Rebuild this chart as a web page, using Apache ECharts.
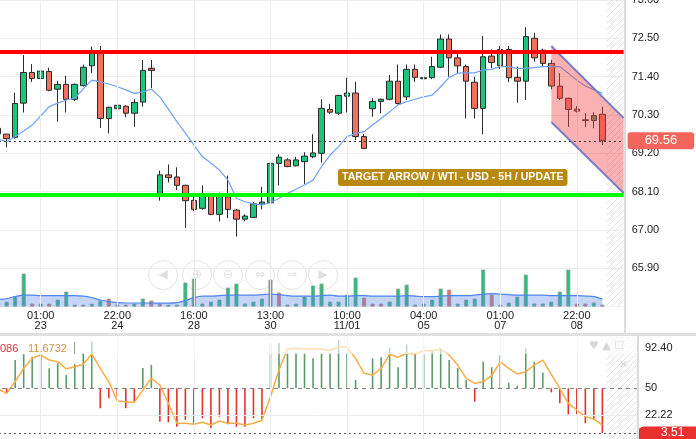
<!DOCTYPE html>
<html><head><meta charset="utf-8">
<script src="https://cdn.jsdelivr.net/npm/echarts@6/dist/echarts.min.js"></script>
<style>html,body{margin:0;padding:0;background:#fff;overflow:hidden}#c{width:696px;height:439px}</style>
</head><body><div id="c"></div>
<script>
// ---------- data ----------
const tickLabels = ['01:00\n23','22:00\n24','16:00\n28','13:00\n30','10:00\n11/01','04:00\n05','01:00\n07','22:00\n08'];
const tickIndex = [5,14,23,32,41,50,59,68];
const candleOpen  = [69.92,69.75,69.66,70.64,71.52,71.35,71.55,71.04,71.18,70.75,71.14,71.71,72.14,70.20,70.48,70.55,70.35,70.67,71.64,68.05,68.58,68.52,68.28,67.85,67.62,67.98,67.45,67.95,67.57,67.31,67.36,67.74,67.78,68.91,69.01,68.84,68.96,69.10,69.20,70.46,70.35,70.84,70.93,69.68,70.48,70.69,70.75,71.27,70.82,71.61,71.34,71.37,71.67,72.48,71.94,71.69,71.24,70.49,71.99,71.71,72.18,71.38,71.27,72.50,72.16,71.78,71.13,70.78,70.47,70.16,70.14,70.32];
const candleClose = [69.76,69.62,70.63,71.52,71.35,71.56,71.01,71.18,70.75,71.18,71.67,72.07,70.20,70.52,70.58,70.35,70.66,71.58,71.58,68.58,68.50,68.28,67.84,67.59,67.98,67.45,67.98,67.59,67.31,67.40,67.75,67.80,68.91,69.09,68.82,69.01,69.12,69.21,70.49,70.38,70.86,70.93,69.68,69.34,70.69,70.75,71.27,70.63,71.61,71.38,71.37,71.69,72.48,71.94,71.71,71.27,70.49,71.97,71.81,72.18,71.37,71.27,72.55,71.94,71.78,71.13,70.78,70.46,70.41,70.14,70.28,69.56];
const candleLow   = [69.70,69.37,69.62,70.37,71.25,71.33,70.98,70.11,70.37,70.70,71.12,71.50,69.93,69.77,70.33,70.23,69.96,70.54,71.07,67.84,68.36,68.15,67.06,67.55,67.58,67.42,67.24,67.34,66.81,67.25,67.34,67.59,67.75,68.28,68.80,68.82,68.32,69.06,68.93,70.33,70.30,70.37,69.58,69.32,70.25,70.35,70.72,70.60,70.73,71.25,71.30,71.33,71.65,71.40,71.50,70.20,70.20,69.75,71.64,71.62,71.24,70.65,70.73,71.83,71.68,71.04,70.73,69.96,70.37,69.95,69.92,69.44];
const candleHigh  = [70.00,69.76,70.94,72.02,71.76,71.66,71.66,71.28,71.43,71.20,71.75,72.26,72.28,70.54,70.65,70.58,70.75,71.88,71.88,68.70,68.88,68.80,68.30,68.00,68.28,68.03,68.07,68.56,67.60,67.45,67.80,68.24,69.15,69.17,69.06,69.10,69.23,69.75,70.75,70.62,70.88,71.37,71.25,69.75,70.78,70.77,71.45,71.75,71.75,71.75,71.59,71.97,72.61,72.61,72.07,71.75,71.40,72.57,72.18,72.28,72.28,71.69,72.82,72.66,72.20,71.88,71.50,70.80,70.56,70.35,70.38,70.54];
const priceMA = [69.61,69.53,69.68,69.84,70.01,70.27,70.54,70.64,70.73,70.78,71.05,71.30,71.25,71.19,71.11,71.02,70.92,70.96,71.04,70.82,70.47,70.11,69.78,69.44,69.10,68.92,68.72,68.43,67.91,67.81,67.75,67.72,67.78,67.91,68.05,68.17,68.29,68.43,68.82,69.15,69.39,69.68,69.77,69.82,70.01,70.20,70.39,70.59,70.68,70.75,70.82,70.87,71.11,71.38,71.50,71.51,71.51,71.59,71.61,71.69,71.69,71.64,71.64,71.66,71.69,71.69,71.69,71.50,71.30,71.13,71.02,70.92];
const volume   = [2,5,10,33,3,3,3,7,15,2, 2,3,6,8,2,2,3,8,6,3, 2,2,24,28,3,5,7,19,23,3, 5,8,27,14,2,3,10,21,23,5, 5,12,29,9,3,3,5,18,22,2, 3,7,18,17,3,7,8,37,12,2, 4,10,32,3,3,5,15,37,3,3, 4,2];
const volumeUp = [1,1,1,1,0,1,0,1,1,1, 1,1,1,0,1,1,1,1,0,0, 1,1,1,1,1,1,1,1,1,1, 1,1,1,0,1,1,1,1,1,1, 1,1,1,0,0,0,1,1,1,1, 1,1,1,0,1,1,1,1,0,1, 1,1,1,1,1,1,1,1,0,0, 1,0];
const volumeMA = [7,8,10,11.5,11.5,11,11,11,11,11, 10.5,9,6.6,5,4,3.6,3.6,3.6,3.6,3.5, 3.5,4,6,9,10.5,10.5,11,11.5,11.5,11.5, 11.5,12,12.5,12,11,10.5,10.5,10.5,11,11.5, 10.5,10.5,11,11,10.5,10.5,10.5,10.5,11,10.5, 10,10,10.5,11,11,11,11.5,12.5,13,12.5, 12,11.5,11.5,11.5,11.5,11,11,11,11,10.5, 10,7.5];
const oscBars = [50,44.8,79.4,85.4,82.9,84.7,70.8,76,63.8,75, 86.4,98.5,29.2,39.6,41.3,29.2,36.1,71.1,74.2,15.3, 14.6,10.0,17.0,11.8,18.8,8.4,20.5,12.5,10.0,10.0, 18.8,17.9,96.8,96.8,86.4,86.4,86.4,81.2,86.4,86.4, 100.3,86.4,58.6,49,81.2,82.3,92.3,71.9,95.8,86.4, 85.4,89.9,91.6,79.4,71.1,58.6,36.1,77.7,71.9,84.7, 55.8,52.7,91.6,77.7,66.2,45.8,34.4,22.9,22.9,13.6, 17.0,3.51];
const oscSignal = [49.3,44.8,56.9,70.8,81.2,84.7,79.4,77.7,70.1,72.5, 75,85.7,70.8,56.9,36.8,36.1,35.4,48.2,60.4,53.4, 34.4,13.6,13.6,12.5,14.6,11.8,16.0,13.6,13.6,11.8, 13.6,16.7,41.3,69.0,90.9,91.6,90.9,90.9,90.9,89.1, 93.3,92.6,81.2,65.6,63.8,70.8,85.4,82.3,86.4,85.7, 89.1,89.0,90.6,84.7,74.2,60.4,55.2,56.9,63.1,77.7, 70.8,64.9,67.3,74.2,79.4,64.6,50,34.4,27.4,20.5, 18.1,11.67];
const oscAxisLabels = [92.40, 50, 22.22];
const resistanceLevel = 72.11;
const supportLevel = 68.00;
const channelIndex = [65, 73.5];
const channelUpper = [72.28, 70.21];
const channelLower = [70.10, 68.06];
const annotationText = 'TARGET ARROW / WTI - USD - 5H / UPDATE';
const legendTexts = ['086', '11.6732'];

// ---------- layout ----------
const FONT = '"Liberation Sans", Arial, sans-serif';
const BAND = 8.51, LEFT = -6.1;
const N_PRICE = 74;
const PRICE_W = N_PRICE * BAND;
const IND_W = 644.1;
const IND_MAX = -0.5 + IND_W / BAND;
const last = candleClose.length - 1;
const GREEN = '#1ec47a', RED = '#f3705f';

const catsPrice = Array.from({length: N_PRICE}, (_, i) => {
  const k = tickIndex.indexOf(i); return k >= 0 ? tickLabels[k] : 'c' + i;
});

// hatch pattern
const pc = document.createElement('canvas'); pc.width = 6; pc.height = 6;
const g = pc.getContext('2d'); g.strokeStyle = '#e2e2e2'; g.lineWidth = 1;
g.beginPath(); g.moveTo(0, 6); g.lineTo(6, 0); g.moveTo(-1, 1); g.lineTo(1, -1); g.moveTo(5, 7); g.lineTo(7, 5); g.stroke();
const hatch = {image: pc, repeat: 'repeat'};

const candleData = candleOpen.map((o, i) => {
  const it = {value: [o, candleClose[i], candleLow[i], candleHigh[i]]};
  if (i === 70) it.itemStyle = {color: '#5f9062'};
  return it;
});
const volData = volume.map((v, i) => ({value: v, itemStyle: {color: volumeUp[i] ? GREEN : RED}}));

const chart = echarts.init(document.getElementById('c'), null, {renderer: 'canvas'});
const option = {
  animation: false,
  textStyle: {fontFamily: FONT},
  grid: [
    {left: LEFT, top: 0, width: PRICE_W, height: 306.6, outerBoundsMode: 'none', containLabel: false},
    {left: LEFT, top: 337, width: IND_W, height: 102, outerBoundsMode: 'none', containLabel: false}
  ],
  xAxis: [
    {type: 'category', gridIndex: 0, data: catsPrice, boundaryGap: true,
     axisLine: {show: false}, axisTick: {show: false}, splitLine: {show: false},
     axisLabel: {interval: (i) => tickIndex.includes(i), color: '#222', fontSize: 11, lineHeight: 10, margin: 4, fontFamily: FONT}},
    {type: 'value', gridIndex: 0, min: -0.5, max: N_PRICE - 0.5, show: false},
    {type: 'value', gridIndex: 1, min: -0.5, max: IND_MAX, show: false}
  ],
  yAxis: [
    {type: 'value', gridIndex: 0, position: 'right', min: 64.8, max: 73.6, interval: 1.1,
     axisLine: {show: false}, axisTick: {show: false},
     splitLine: {lineStyle: {color: '#ededed'}},
     axisLabel: {color: '#222', fontSize: 11, margin: 8, fontFamily: FONT,
       formatter: (v) => Math.abs(v - 64.8) < 1e-6 ? '' : v.toFixed(2)}},
    {type: 'value', gridIndex: 0, min: 0, max: 306.6, show: false},
    {type: 'value', gridIndex: 1, position: 'right', min: -2.76, max: 103.38,
     axisLine: {show: false}, axisTick: {show: false}, splitLine: {show: false},
     axisLabel: {customValues: oscAxisLabels, color: '#222', fontSize: 11, margin: 7, fontFamily: FONT,
       formatter: (v) => v === 50 ? '50' : Number(v).toFixed(2)}}
  ],
  series: [
    {type: 'line', xAxisIndex: 1, yAxisIndex: 0, data: [], z: 0, silent: true,
     markLine: {silent: true, symbol: ['none', 'none'], label: {show: false},
       lineStyle: {color: '#ececec', type: 'solid', width: 1},
       data: tickIndex.map(i => ({xAxis: i}))},
     markArea: {silent: true, itemStyle: {color: hatch}, data: [[{xAxis: last + 0.5}, {xAxis: N_PRICE - 0.5}]]}},
    {type: 'line', xAxisIndex: 2, yAxisIndex: 2, data: [], z: 0, silent: true,
     markLine: {silent: true, symbol: ['none', 'none'], label: {show: false},
       lineStyle: {color: '#ececec', type: 'solid', width: 1},
       data: tickIndex.map(i => ({xAxis: i})).concat([{yAxis: oscAxisLabels[2]}])},
     markArea: {silent: true, itemStyle: {color: hatch}, data: [[{xAxis: last + 0.5}, {xAxis: IND_MAX}]]}},
    {type: 'bar', xAxisIndex: 0, yAxisIndex: 1, data: volData, barWidth: 4, z: 1,
     itemStyle: {borderColor: '#9a9a9a', borderWidth: 0.8}},
    {type: 'line', xAxisIndex: 0, yAxisIndex: 1, data: volumeMA, symbol: 'none', smooth: 0.3, z: 2,
     lineStyle: {color: '#4f86ec', width: 1.2}, areaStyle: {color: 'rgba(80,130,232,0.48)'}},
    {type: 'candlestick', xAxisIndex: 0, yAxisIndex: 0, data: candleData, barWidth: 6, z: 3,
     itemStyle: {color: GREEN, color0: RED, borderColor: '#2a2a2a', borderColor0: '#2a2a2a', borderWidth: 1},
     markLine: {silent: true, symbol: ['none', 'none'], z: 6,
       data: [
         {yAxis: resistanceLevel, lineStyle: {color: '#ff0000', width: 4, type: 'solid'}, label: {show: false}},
         {yAxis: supportLevel, lineStyle: {color: '#00ff00', width: 4, type: 'solid'}, label: {show: false}},
         {yAxis: candleClose[last], lineStyle: {color: '#333', width: 1, type: [2, 3]},
          label: {show: true, position: 'end', distance: 4, formatter: candleClose[last].toFixed(2),
            color: '#fff', fontSize: 13, fontFamily: FONT, backgroundColor: '#f4665c', borderRadius: 3,
            padding: [2, 17, 2, 17], lineHeight: 13}}
       ]}},
    {type: 'line', xAxisIndex: 0, yAxisIndex: 0, data: priceMA, symbol: 'none', z: 4,
     lineStyle: {color: '#6fa2f4', width: 1.2}},
    {type: 'custom', xAxisIndex: 1, yAxisIndex: 0, z: 5, clip: true,
     data: [[channelIndex[0], channelUpper[0], channelLower[0], channelIndex[1], channelUpper[1], channelLower[1]]],
     dimensions: ['x0', 'u0', 'l0', 'x1', 'u1', 'l1'],
     encode: {x: [0, 3], y: [1, 2, 4, 5]},
     renderItem: (params, api) => {
       const a = api.coord([api.value(0), api.value(1)]);
       const b = api.coord([api.value(3), api.value(4)]);
       const c = api.coord([api.value(3), api.value(5)]);
       const d = api.coord([api.value(0), api.value(2)]);
       return {type: 'group', children: [
         {type: 'polygon', shape: {points: [a, b, c, d]}, style: {fill: 'rgba(240,70,70,0.42)'}},
         {type: 'line', shape: {x1: a[0], y1: a[1], x2: b[0], y2: b[1]}, style: {stroke: '#7b7bc6', lineWidth: 2}},
         {type: 'line', shape: {x1: d[0], y1: d[1], x2: c[0], y2: c[1]}, style: {stroke: '#7b7bc6', lineWidth: 2}}
       ]};
     }},
    {type: 'custom', xAxisIndex: 2, yAxisIndex: 2, z: 3,
     data: oscBars.map((v, i) => [i, v]),
     renderItem: (params, api) => {
       const i = api.value(0), v = api.value(1);
       const p0 = api.coord([i, 50]), p1 = api.coord([i, v]);
       return {type: 'line', shape: {x1: p0[0], y1: p0[1], x2: p1[0], y2: p1[1]},
         style: {stroke: v >= 50 ? '#5c9a6c' : '#e5302c', lineWidth: 1.6}};
     }},
    {type: 'line', xAxisIndex: 2, yAxisIndex: 2, data: oscSignal.map((v, i) => [i, v]), symbol: 'none', z: 4,
     lineStyle: {color: '#f8ad45', width: 1.5},
     markLine: {silent: true, symbol: ['none', 'none'],
       data: [
         {yAxis: 50, lineStyle: {color: '#808080', type: [4, 4], width: 1}, label: {show: false}},
         {yAxis: oscBars[last], lineStyle: {color: '#555', type: [2, 3], width: 1},
          label: {show: true, position: 'end', distance: 0, formatter: String(oscBars[last]),
            color: '#fff', fontSize: 12, fontFamily: FONT, backgroundColor: '#e8302f', borderRadius: [6, 0, 0, 0],
            padding: [1, 16, 0, 23], lineHeight: 12}}
       ]}}
  ],
  graphic: [
    {type: 'rect', z: 50, shape: {x: 0, y: 338, width: 640, height: 16}, style: {fill: 'rgba(255,255,255,0.6)'}},
    {type: 'rect', z: 60, shape: {x: 0, y: 333, width: 696, height: 3}, style: {fill: '#e0e0e0'}},
    {type: 'rect', z: 60, shape: {x: 624, y: 0, width: 2, height: 333}, style: {fill: '#dcdcdc'}},
    {type: 'rect', z: 60, shape: {x: 637, y: 336, width: 2, height: 103}, style: {fill: '#dcdcdc'}},
    {type: 'text', z: 61, left: 0, top: 343, style: {text: legendTexts[0], fill: '#e5323b', font: '11px ' + FONT}},
    {type: 'text', z: 61, left: 28, top: 343, style: {text: legendTexts[1], fill: '#c9974b', font: '11px ' + FONT}},
    {type: 'text', z: 61, left: 73, top: 342, style: {text: '|', fill: '#999', font: '12px ' + FONT}},
    {type: 'text', z: 61, left: 589, top: 341, style: {text: '♥ ▲ ☐', fill: '#d6d6d6', font: '11px "DejaVu Sans"'}},
    {type: 'text', z: 61, left: 619, top: 360, style: {text: '✕', fill: '#d6d6d6', font: 'bold 11px "DejaVu Sans"'}},
    {type: 'text', z: 62, left: 338, top: 169,
     style: {text: annotationText, fill: '#fff', font: 'bold 10.6px ' + FONT,
       backgroundColor: '#b8890f', padding: [3, 4, 3, 4], borderRadius: 3}}
  ].concat([163, 197, 228, 260, 292, 323].map((cx, k) => ({
      type: 'group', z: 40, children: [
        {type: 'circle', shape: {cx: cx, cy: 275, r: 14.5}, style: {fill: 'rgba(255,255,255,0.25)', stroke: '#e2e2e2', lineWidth: 1}},
        {type: 'text', style: {text: ['◀', '⊕', '⊖', '⇔', '⇒', '▶'][k], x: cx, y: 275, align: 'center', verticalAlign: 'middle',
          fill: '#e0e0e0', font: '12px "DejaVu Sans"'}}
      ]})))
};
chart.setOption(option);
</script>
</body></html>
